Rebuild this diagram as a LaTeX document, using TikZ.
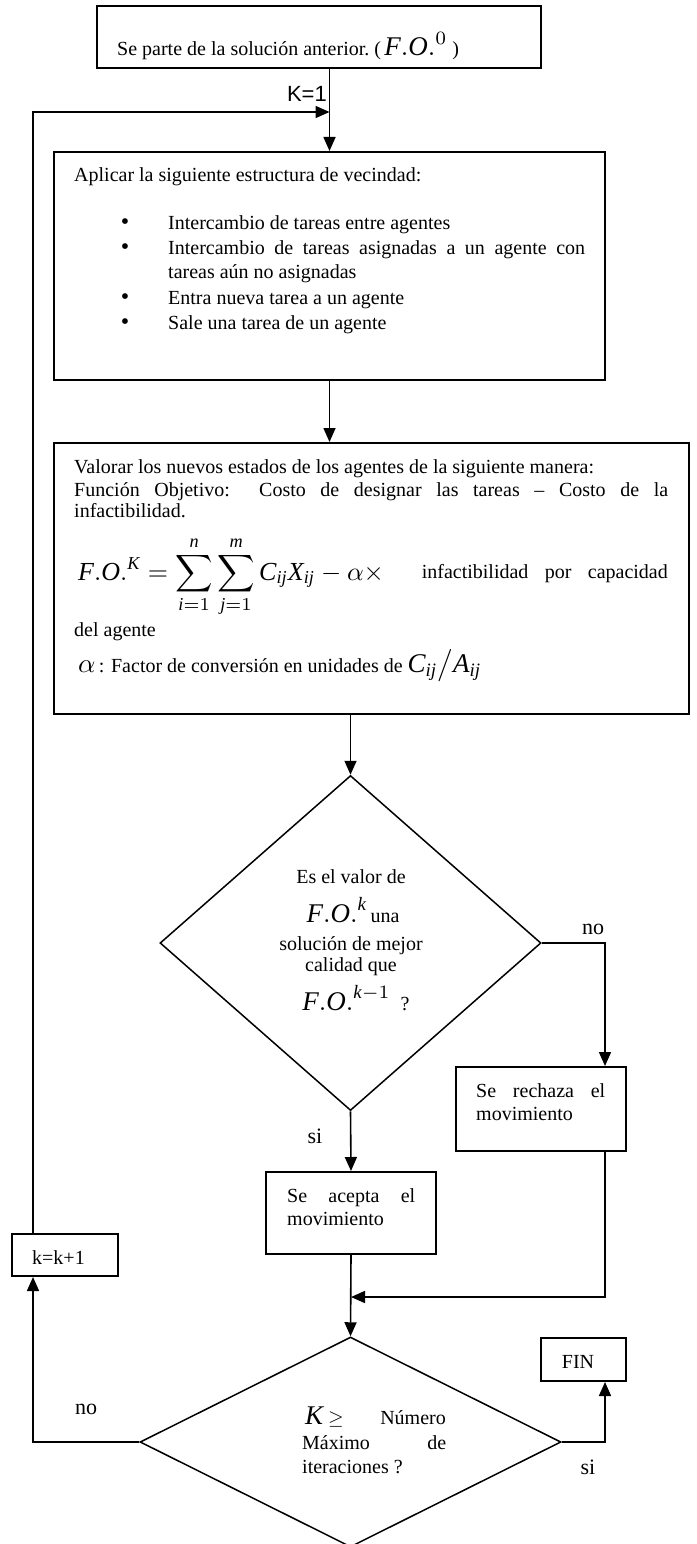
\documentclass[tikz,border=0pt]{standalone}
\usepackage{fontspec}
\setmainfont{Liberation Serif}
\newfontfamily\sansf{Liberation Sans}
\usetikzlibrary{shapes.geometric,arrows.meta}
\newcommand{\fs}{\fontsize{20}{25}\selectfont}
\newcommand{\lbl}{\fontsize{22}{26}\selectfont}
\newcommand{\mth}[2][2.7]{\scalebox{#1}{\fontsize{10}{12}\selectfont$\displaystyle #2$}}
\begin{document}
\begin{tikzpicture}[x=1pt,y=-1pt,
  box/.style={draw, line width=2pt, inner sep=0pt},
  dia/.style={draw, diamond, line width=1.5pt, inner sep=0pt},
  arr/.style={line width=1.6pt, -{Triangle[length=14pt,width=12pt]}},
  txt/.style={inner sep=0pt, font=\fs},
  lab/.style={inner sep=0pt, font=\lbl}]
\useasboundingbox (0,0) rectangle (696,1544);

% boxes
\node[box, minimum width=444pt, minimum height=62pt] (t1) at (319,37) {};
\node[box, minimum width=551pt, minimum height=228pt] (b2) at (329.5,266) {};
\node[box, minimum width=635pt, minimum height=271pt] (b3) at (371.5,578.5) {};
\node[dia, minimum width=381pt, minimum height=335pt] (d1) at (350.5,943) {};
\node[box, minimum width=170pt, minimum height=82pt] (ac) at (351,1213) {};
\node[box, minimum width=170pt, minimum height=84pt] (re) at (541,1109) {};
\node[box, minimum width=106pt, minimum height=42pt] (kk) at (65,1255) {};
\node[dia, minimum width=421pt, minimum height=210pt] (d2) at (350.5,1442) {};
\node[box, minimum width=85pt, minimum height=43pt] (fin) at (583.5,1359.5) {};

% texts: top box
\node[txt, anchor=base west] (t1a) at (117,56) {Se parte de la solución anterior.\ (\,\mth{\mathit{F.O.}^{0}}\ )};
\node[inner sep=0pt, font={\sansf\fontsize{22}{26}\selectfont}, anchor=base east] (k1) at (327,102) {K=1};

% box 2
\node[txt, anchor=base west] (b2a) at (74,181) {Aplicar la siguiente estructura de vecindad:};
\foreach \y/\n in {229/1,254/2,304/3,329/4} {
  \node[txt, anchor=base] (bu\n) at (125,\y) {\fontsize{24}{25}\selectfont •};
}
\node[txt, anchor=base west] (i1) at (168,229) {Intercambio de tareas entre agentes};
\node[txt, anchor=base west] (i2) at (168,254) {\makebox[417pt][s]{Intercambio de tareas asignadas a un agente con}};
\node[txt, anchor=base west] (i2b) at (168,278) {tareas aún no asignadas};
\node[txt, anchor=base west] (i3) at (168,304) {Entra nueva tarea a un agente};
\node[txt, anchor=base west] (i4) at (168,329) {Sale una tarea de un agente};

% box 3
\node[txt, anchor=base west] (v1) at (74,473) {Valorar los nuevos estados de los agentes de la siguiente manera:};
\node[txt, anchor=base west] (v2) at (74,496) {\makebox[594pt][s]{Función Objetivo:\ \ Costo de designar las tareas – Costo de la}};
\node[txt, anchor=base west] (v3) at (74,517) {infactibilidad.};
\node[txt, anchor=base west] (fo) at (78,580) {\mth[2.6]{\mathit{F.O.}^{\mathit{K}} = \sum_{\mathit{i}=1}^{\mathit{n}}\sum_{\mathit{j}=1}^{\mathit{m}}\mathit{C}_{\mathit{ij}}\mathit{X}_{\mathit{ij}} - \alpha\times}};
\node[txt, anchor=base east] (fo2) at (668,578) {\makebox[246pt][s]{infactibilidad por capacidad}};
\node[txt, anchor=base west] (v4) at (74,636) {del agente};
\node[txt, anchor=base west] (v5) at (78,672) {\mth{\alpha}\,: Factor de conversión en unidades de \mth{\mathit{C}_{\mathit{ij}}\big/\mathit{A}_{\mathit{ij}}}};

% diamond 1
\node[txt, anchor=base] (q1) at (351,883) {Es el valor de};
\node[txt, anchor=base] (q2) at (353,922) {\mth{\mathit{F.O.}^{\mathit{k}}}\,una};
\node[txt, anchor=base] (q3) at (351,950) {solución de mejor};
\node[txt, anchor=base] (q4) at (351,971) {calidad que};
\node[txt, anchor=base] (q5) at (356,1010) {\mth{\mathit{F.O.}^{\mathit{k}-1}}\ \ ?};

% small boxes
\node[txt, anchor=base west] (a1) at (287,1202) {\makebox[128pt][s]{Se acepta el}};
\node[txt, anchor=base west] (a2) at (287,1225) {movimiento};
\node[txt, anchor=base west] (r1) at (476,1097) {\makebox[129pt][s]{Se rechaza el}};
\node[txt, anchor=base west] (r2) at (476,1120) {movimiento};
\node[txt, anchor=base west] (kt) at (32,1264) {k=k+1};
\node[txt, anchor=base] (ft) at (578,1368) {FIN};

% diamond 2
\node[txt, anchor=base west] (m1) at (305,1424) {\mth{\mathit{K}}\ \mth[2]{\geq}};
\node[txt, anchor=base east] (m1b) at (446,1424) {Número};
\node[txt, anchor=base west] (m2) at (302,1449) {\makebox[144pt][s]{Máximo de}};
\node[txt, anchor=base west] (m3) at (302,1473) {iteraciones ?};

% labels
\node[lab, anchor=base] (no1) at (593,934) {no};
\node[lab, anchor=base] (si1) at (315,1143) {si};
\node[lab, anchor=base] (no2) at (86,1414) {no};
\node[lab, anchor=base] (si2) at (588,1474) {si};

% connectors
\coordinate (lp) at (33,112);
\coordinate (rx) at (605,0);
\coordinate (mg) at (351,1297);
\draw[arr] (t1.south -| b2.north) -- (b2.north);
\draw[arr] (kk.north -| lp) -- (lp) -- (lp -| b2.north);
\draw[arr] (b2.south) -- (b2.south |- b3.north);
\draw[arr] (d1.north |- b3.south) -- (d1.north);
\draw[arr] (d1.south) -- (ac.north);
\draw[arr] (d1.east) -| (re.north -| rx);
\draw[arr] (re.south -| rx) |- (mg);
\draw[arr] (ac.south) -- (d2.north);
\draw[arr] (d2.west) -| (kk.south -| lp);
\draw[arr] (d2.east) -| (fin.south -| rx);
\end{tikzpicture}
\end{document}
